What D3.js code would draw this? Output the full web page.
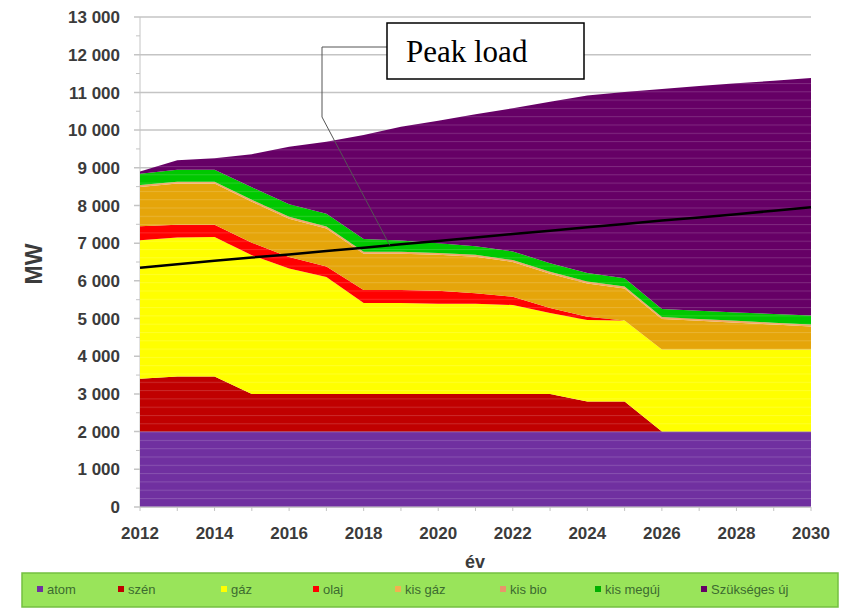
<!DOCTYPE html>
<html>
<head>
<meta charset="utf-8">
<script src="https://cdn.jsdelivr.net/npm/d3@7"></script>
<style>
  body { margin: 0; background: #fff; }
  svg { display: block; font-family: "Liberation Sans", Arial, sans-serif; }
</style>
</head>
<body>
<div id="chart"></div>
<script>
// adatok (MW)
const years = [2012, 2013, 2014, 2015, 2016, 2017, 2018, 2019, 2020, 2021,
               2022, 2023, 2024, 2025, 2026, 2027, 2028, 2029, 2030];
const atom = [2000, 2000, 2000, 2000, 2000, 2000, 2000, 2000, 2000, 2000,
              2000, 2000, 2000, 2000, 2000, 2000, 2000, 2000, 2000];
const szen = [1400, 1460, 1460, 1000, 1000, 1000, 1000, 1000, 1000, 1000,
              1000, 1000, 800, 800, 0, 0, 0, 0, 0];
const gaz = [3680, 3690, 3700, 3680, 3330, 3100, 2410, 2410, 2390, 2390,
             2360, 2150, 2160, 2150, 2180, 2180, 2180, 2180, 2180];
const olaj = [370, 340, 330, 330, 300, 280, 350, 350, 350, 280,
              220, 130, 90, 0, 0, 0, 0, 0, 0];
const kisGaz = [1040, 1090, 1090, 1090, 1020, 1010, 960, 960, 950, 970,
                920, 910, 880, 850, 810, 760, 710, 660, 610];
const kisBio = [50, 50, 50, 50, 50, 50, 50, 50, 50, 50,
                50, 50, 50, 50, 50, 50, 50, 50, 50];
const kisMegujulo = [300, 320, 320, 330, 330, 340, 340, 300, 260, 230,
                     230, 230, 230, 220, 210, 215, 220, 230, 240];
const szuksegesUj = [60, 250, 300, 880, 1530, 1910, 2760, 3020, 3250, 3500,
                     3800, 4280, 4710, 4940, 5840, 5965, 6080, 6190, 6300];
const peakLoad = [6350, 6440, 6530, 6620, 6700, 6790, 6880, 6970, 7060, 7150,
                  7240, 7330, 7420, 7510, 7600, 7680, 7770, 7860, 7950];

const keys = ["atom", "szen", "gaz", "olaj", "kisGaz", "kisBio", "kisMegujulo", "szuksegesUj"];
const labels = ["atom", "szén", "gáz", "olaj", "kis gáz", "kis bio", "kis megúj", "Szükséges új"];
const areaColors = ["#7030a0", "#c00000", "#ffff00", "#ff0000", "#e5a50a", "#f0a868", "#00c800", "#660066"];
const legendColors = ["#7030a0", "#c00000", "#ffff00", "#ff0000", "#f2b050", "#e8956b", "#00b000", "#660066"];

const width = 861;
const height = 615;

const rows = years.map((yr, i) => ({
  year: yr,
  atom: atom[i], szen: szen[i], gaz: gaz[i], olaj: olaj[i],
  kisGaz: kisGaz[i], kisBio: kisBio[i], kisMegujulo: kisMegujulo[i], szuksegesUj: szuksegesUj[i]
}));

const svg = d3.select("#chart").append("svg")
  .attr("width", width)
  .attr("height", height);

const x = d3.scaleLinear().domain([2012, 2030]).range([140, 811]);
const y = d3.scaleLinear().domain([0, 13000]).range([507, 17]);

const fmt = d3.formatLocale({ decimal: ",", thousands: " ", grouping: [3], currency: ["", ""] }).format(",");

// rácsvonalak
svg.append("g")
  .selectAll("line")
  .data(y.ticks(13))
  .join("line")
  .attr("x1", 134)
  .attr("x2", x(2030))
  .attr("y1", d => y(d))
  .attr("y2", d => y(d))
  .attr("stroke", "#c4c4c4")
  .attr("stroke-width", 1.5);

// kis osztások
svg.append("g")
  .selectAll("line")
  .data(d3.range(500, 13000, 1000))
  .join("line")
  .attr("x1", 136)
  .attr("x2", 140)
  .attr("y1", d => y(d))
  .attr("y2", d => y(d))
  .attr("stroke", "#c4c4c4");

svg.append("line")
  .attr("x1", x(2012)).attr("x2", x(2012))
  .attr("y1", y(13000)).attr("y2", y(0))
  .attr("stroke", "#c4c4c4");

// rétegek
const stack = d3.stack().keys(keys);
const series = stack(rows);

const area = d3.area()
  .x(d => x(d.data.year))
  .y0(d => y(d[0]))
  .y1(d => y(d[1]));

svg.append("g")
  .selectAll("path")
  .data(series)
  .join("path")
  .attr("d", area)
  .attr("fill", (d, i) => areaColors[i]);

// halvány csíkozás a területeken
const defs = svg.append("defs");
const pat = defs.append("pattern")
  .attr("id", "stripes")
  .attr("patternUnits", "userSpaceOnUse")
  .attr("width", 20)
  .attr("height", 8.3);
pat.append("rect")
  .attr("width", 20).attr("height", 1)
  .attr("fill", "#fff")
  .attr("opacity", 0.16);

svg.append("path")
  .datum(series[series.length - 1])
  .attr("d", d3.area().x(d => x(d.data.year)).y0(y(0)).y1(d => y(d[1])))
  .attr("fill", "url(#stripes)");

// x tengely
svg.append("line")
  .attr("x1", x(2012)).attr("x2", x(2030))
  .attr("y1", y(0)).attr("y2", y(0))
  .attr("stroke", "#c4c4c4");

svg.append("g")
  .selectAll("line")
  .data(years)
  .join("line")
  .attr("x1", d => x(d)).attr("x2", d => x(d))
  .attr("y1", y(0)).attr("y2", y(0) + 4)
  .attr("stroke", "#c4c4c4");

// csúcsterhelés
svg.append("path")
  .datum(peakLoad)
  .attr("d", d3.line().x((d, i) => x(years[i])).y(d => y(d)))
  .attr("fill", "none")
  .attr("stroke", "#000")
  .attr("stroke-width", 2.5);

// tengelyfeliratok
svg.append("g")
  .selectAll("text")
  .data(y.ticks(13))
  .join("text")
  .attr("x", 120)
  .attr("y", d => y(d))
  .attr("dy", "0.36em")
  .attr("text-anchor", "end")
  .attr("font-size", 17)
  .attr("font-weight", "bold")
  .attr("fill", "#3b3b3b")
  .text(d => fmt(d));

svg.append("g")
  .selectAll("text")
  .data(years.filter((d, i) => i % 2 === 0))
  .join("text")
  .attr("x", d => x(d))
  .attr("y", 539)
  .attr("text-anchor", "middle")
  .attr("font-size", 17)
  .attr("font-weight", "bold")
  .attr("fill", "#3b3b3b")
  .text(d => d);

svg.append("text")
  .attr("x", 475)
  .attr("y", 568)
  .attr("text-anchor", "middle")
  .attr("font-size", 18)
  .attr("font-weight", "bold")
  .attr("fill", "#3b3b3b")
  .text("év");

svg.append("text")
  .attr("transform", "translate(42,264) rotate(-90)")
  .attr("text-anchor", "middle")
  .attr("font-size", 23)
  .attr("font-weight", "bold")
  .attr("fill", "#3b3b3b")
  .text("MW");

// Peak load felirat
const tipX = d3.interpolate(years[6], years[7])(0.7);
const tipY = d3.interpolate(peakLoad[6], peakLoad[7])(0.7);
svg.append("path")
  .attr("d", `M387,47 H322 V117 L${x(tipX)},${y(tipY)}`)
  .attr("fill", "none")
  .attr("stroke", "#555")
  .attr("stroke-width", 1);

svg.append("rect")
  .attr("x", 387).attr("y", 23)
  .attr("width", 197).attr("height", 56)
  .attr("fill", "#fff")
  .attr("stroke", "#000")
  .attr("stroke-width", 1.5);

svg.append("text")
  .attr("x", 406)
  .attr("y", 62)
  .attr("font-family", "'Liberation Serif', 'Times New Roman', serif")
  .attr("font-size", 31)
  .attr("fill", "#000")
  .text("Peak load");

// jelmagyarázat
const legend = svg.append("g");
legend.append("rect")
  .attr("x", 22).attr("y", 573)
  .attr("width", 816).attr("height", 34)
  .attr("fill", "#99e45a")
  .attr("stroke", "#74c040")
  .attr("stroke-width", 1.5);

const legendX = [40, 121, 224, 316, 398, 503, 598, 704];
const items = legend.selectAll("g")
  .data(labels)
  .join("g")
  .attr("transform", (d, i) => `translate(${legendX[i]},590)`);

items.append("rect")
  .attr("x", -3).attr("y", -4)
  .attr("width", 6).attr("height", 6)
  .attr("fill", (d, i) => legendColors[i]);

items.append("text")
  .attr("x", 7)
  .attr("y", 4)
  .attr("font-size", 13)
  .attr("fill", "#3c6b30")
  .text(d => d);
</script>
</body>
</html>
